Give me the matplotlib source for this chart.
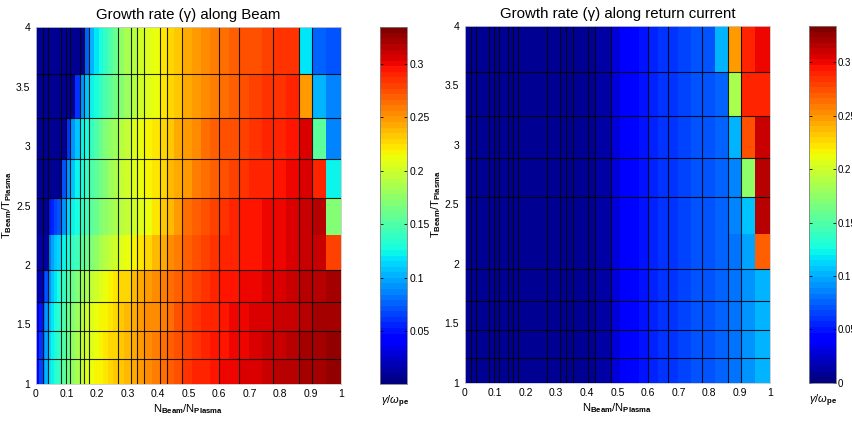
import numpy as np
import matplotlib
matplotlib.use("Agg")
import matplotlib.pyplot as plt
from matplotlib.cm import ScalarMappable
from matplotlib.colors import Normalize

plt.rcParams['font.family'] = ['Liberation Sans', 'DejaVu Sans']
plt.rcParams['mathtext.fontset'] = 'custom'
plt.rcParams['mathtext.rm'] = 'Liberation Sans'
plt.rcParams['mathtext.it'] = 'Liberation Sans:italic'
plt.rcParams['mathtext.bf'] = 'Liberation Sans:bold'

# ---------------- data ----------------
# cell edges along N_beam/N_plasma
x_edges = [0, 0.011, 0.022, 0.030, 0.038, 0.050, 0.060, 0.070, 0.081, 0.097, 0.112,
           0.127, 0.143, 0.159, 0.175, 0.19, 0.205, 0.22, 0.237, 0.253, 0.270, 0.29,
           0.313, 0.332, 0.355, 0.38, 0.405, 0.428, 0.453, 0.479, 0.51, 0.54, 0.57,
           0.601, 0.634, 0.667, 0.70, 0.74, 0.778, 0.82, 0.861, 0.906, 0.952, 1.0]
# cell edges along T_beam/T_plasma
y_edges = [1.0, 1.21, 1.44, 1.69, 1.96, 2.25, 2.56, 2.89, 3.24, 3.61, 4.0]
# mesh lines drawn in black
x_grid = [0.022, 0.038, 0.081, 0.097, 0.112, 0.143, 0.159, 0.175, 0.270, 0.313,
          0.332, 0.355, 0.405, 0.428, 0.479, 0.601, 0.667, 0.778, 0.861, 0.906]
y_grid = [1.21, 1.44, 1.69, 1.96, 2.56, 2.89, 3.24, 3.61]

# growth rate along beam (rows from T=1.0 upwards)
gamma_beam = [
    [0.040, 0.065, 0.090, 0.100, 0.118, 0.125, 0.133, 0.140, 0.152, 0.165, 0.176, 0.188, 0.198, 0.205, 0.210, 0.215, 0.219, 0.223, 0.227, 0.231, 0.235, 0.240, 0.245, 0.250, 0.255, 0.260, 0.265, 0.270, 0.276, 0.283, 0.288, 0.292, 0.296, 0.299, 0.302, 0.305, 0.308, 0.311, 0.314, 0.317, 0.321, 0.324, 0.327],
    [0.035, 0.060, 0.085, 0.095, 0.115, 0.122, 0.130, 0.138, 0.150, 0.162, 0.173, 0.185, 0.195, 0.203, 0.208, 0.213, 0.217, 0.221, 0.225, 0.229, 0.233, 0.238, 0.243, 0.248, 0.253, 0.258, 0.263, 0.268, 0.274, 0.281, 0.286, 0.290, 0.294, 0.297, 0.300, 0.303, 0.306, 0.309, 0.312, 0.315, 0.319, 0.322, 0.325],
    [0.030, 0.050, 0.080, 0.090, 0.110, 0.120, 0.128, 0.135, 0.147, 0.158, 0.168, 0.180, 0.190, 0.200, 0.206, 0.211, 0.215, 0.219, 0.223, 0.227, 0.231, 0.236, 0.241, 0.246, 0.251, 0.256, 0.261, 0.266, 0.272, 0.279, 0.284, 0.288, 0.292, 0.295, 0.298, 0.301, 0.304, 0.307, 0.310, 0.313, 0.317, 0.320, 0.323],
    [0.015, 0.020, 0.060, 0.070, 0.090, 0.110, 0.120, 0.127, 0.137, 0.148, 0.158, 0.168, 0.178, 0.188, 0.196, 0.202, 0.207, 0.212, 0.216, 0.220, 0.225, 0.230, 0.236, 0.242, 0.247, 0.252, 0.258, 0.264, 0.270, 0.277, 0.282, 0.286, 0.290, 0.293, 0.296, 0.299, 0.302, 0.305, 0.308, 0.311, 0.314, 0.318, 0.320],
    [0.012, 0.012, 0.012, 0.012, 0.080, 0.095, 0.105, 0.115, 0.125, 0.130, 0.138, 0.145, 0.152, 0.160, 0.168, 0.176, 0.184, 0.190, 0.196, 0.200, 0.206, 0.212, 0.218, 0.224, 0.230, 0.237, 0.245, 0.252, 0.260, 0.270, 0.275, 0.280, 0.284, 0.288, 0.291, 0.294, 0.297, 0.300, 0.303, 0.306, 0.310, 0.313, 0.280],
    [0.008, 0.008, 0.008, 0.008, 0.050, 0.055, 0.065, 0.070, 0.090, 0.115, 0.122, 0.130, 0.137, 0.145, 0.155, 0.162, 0.168, 0.175, 0.180, 0.186, 0.192, 0.198, 0.204, 0.209, 0.214, 0.220, 0.232, 0.240, 0.250, 0.262, 0.268, 0.275, 0.280, 0.286, 0.290, 0.293, 0.297, 0.300, 0.303, 0.306, 0.310, 0.315, 0.170],
    [0.008, 0.008, 0.008, 0.008, 0.008, 0.008, 0.008, 0.008, 0.070, 0.090, 0.110, 0.122, 0.130, 0.138, 0.148, 0.157, 0.165, 0.172, 0.180, 0.187, 0.194, 0.200, 0.206, 0.212, 0.218, 0.224, 0.230, 0.236, 0.242, 0.250, 0.257, 0.263, 0.268, 0.275, 0.280, 0.284, 0.288, 0.291, 0.295, 0.298, 0.305, 0.290, 0.125],
    [0.008, 0.008, 0.008, 0.008, 0.008, 0.008, 0.008, 0.008, 0.008, 0.060, 0.090, 0.110, 0.122, 0.130, 0.140, 0.150, 0.160, 0.168, 0.175, 0.182, 0.190, 0.198, 0.205, 0.210, 0.216, 0.222, 0.228, 0.235, 0.242, 0.250, 0.256, 0.262, 0.267, 0.273, 0.277, 0.282, 0.285, 0.289, 0.292, 0.295, 0.305, 0.155, 0.085],
    [0.008, 0.008, 0.008, 0.008, 0.008, 0.008, 0.008, 0.008, 0.008, 0.008, 0.008, 0.060, 0.090, 0.110, 0.122, 0.130, 0.140, 0.148, 0.155, 0.163, 0.172, 0.183, 0.192, 0.200, 0.207, 0.213, 0.220, 0.228, 0.235, 0.243, 0.250, 0.255, 0.260, 0.266, 0.270, 0.275, 0.279, 0.283, 0.287, 0.289, 0.250, 0.100, 0.085],
    [0.008, 0.008, 0.008, 0.008, 0.008, 0.008, 0.008, 0.008, 0.008, 0.008, 0.008, 0.008, 0.008, 0.075, 0.100, 0.120, 0.130, 0.140, 0.150, 0.160, 0.175, 0.185, 0.193, 0.200, 0.207, 0.212, 0.220, 0.228, 0.235, 0.242, 0.248, 0.253, 0.258, 0.264, 0.268, 0.273, 0.277, 0.281, 0.285, 0.287, 0.120, 0.075, 0.070],
]

# growth rate along return current (rows from T=1.0 upwards)
gamma_return = [
    [0.010, 0.010, 0.010, 0.010, 0.010, 0.010, 0.010, 0.010, 0.010, 0.010, 0.010, 0.010, 0.010, 0.010, 0.010, 0.010, 0.010, 0.010, 0.010, 0.010, 0.006, 0.006, 0.006, 0.006, 0.006, 0.006, 0.006, 0.012, 0.012, 0.030, 0.038, 0.045, 0.050, 0.055, 0.058, 0.062, 0.065, 0.068, 0.072, 0.078, 0.083, 0.090, 0.100],
    [0.010, 0.010, 0.010, 0.010, 0.010, 0.010, 0.010, 0.010, 0.010, 0.010, 0.010, 0.010, 0.010, 0.010, 0.010, 0.010, 0.010, 0.010, 0.010, 0.010, 0.006, 0.006, 0.006, 0.006, 0.006, 0.006, 0.006, 0.012, 0.012, 0.030, 0.038, 0.045, 0.050, 0.055, 0.058, 0.062, 0.065, 0.068, 0.072, 0.078, 0.083, 0.090, 0.100],
    [0.010, 0.010, 0.010, 0.010, 0.010, 0.010, 0.010, 0.010, 0.010, 0.010, 0.010, 0.010, 0.010, 0.010, 0.010, 0.010, 0.010, 0.010, 0.010, 0.010, 0.006, 0.006, 0.006, 0.006, 0.006, 0.006, 0.006, 0.012, 0.012, 0.030, 0.038, 0.045, 0.050, 0.055, 0.058, 0.062, 0.065, 0.068, 0.072, 0.078, 0.083, 0.090, 0.100],
    [0.010, 0.010, 0.010, 0.010, 0.010, 0.010, 0.010, 0.010, 0.010, 0.010, 0.010, 0.010, 0.010, 0.010, 0.010, 0.010, 0.010, 0.010, 0.010, 0.010, 0.006, 0.006, 0.006, 0.006, 0.006, 0.006, 0.006, 0.012, 0.012, 0.030, 0.038, 0.045, 0.050, 0.055, 0.058, 0.062, 0.065, 0.068, 0.072, 0.078, 0.083, 0.090, 0.100],
    [0.010, 0.010, 0.010, 0.010, 0.010, 0.010, 0.010, 0.010, 0.010, 0.010, 0.010, 0.010, 0.010, 0.010, 0.010, 0.010, 0.010, 0.010, 0.010, 0.010, 0.006, 0.006, 0.006, 0.006, 0.006, 0.006, 0.006, 0.012, 0.012, 0.030, 0.038, 0.045, 0.050, 0.055, 0.058, 0.062, 0.065, 0.068, 0.072, 0.078, 0.083, 0.095, 0.270],
    [0.010, 0.010, 0.010, 0.010, 0.010, 0.010, 0.010, 0.010, 0.010, 0.010, 0.010, 0.010, 0.010, 0.010, 0.010, 0.010, 0.010, 0.010, 0.010, 0.010, 0.006, 0.006, 0.006, 0.006, 0.006, 0.006, 0.006, 0.012, 0.012, 0.030, 0.038, 0.045, 0.050, 0.055, 0.058, 0.062, 0.065, 0.068, 0.072, 0.078, 0.088, 0.105, 0.315],
    [0.010, 0.010, 0.010, 0.010, 0.010, 0.010, 0.010, 0.010, 0.010, 0.010, 0.010, 0.010, 0.010, 0.010, 0.010, 0.010, 0.010, 0.010, 0.010, 0.010, 0.006, 0.006, 0.006, 0.006, 0.006, 0.006, 0.006, 0.012, 0.012, 0.030, 0.038, 0.045, 0.050, 0.055, 0.058, 0.062, 0.065, 0.068, 0.072, 0.078, 0.088, 0.175, 0.315],
    [0.010, 0.010, 0.010, 0.010, 0.010, 0.010, 0.010, 0.010, 0.010, 0.010, 0.010, 0.010, 0.010, 0.010, 0.010, 0.010, 0.010, 0.010, 0.010, 0.010, 0.006, 0.006, 0.006, 0.006, 0.006, 0.006, 0.006, 0.012, 0.012, 0.030, 0.038, 0.045, 0.050, 0.055, 0.058, 0.062, 0.065, 0.068, 0.072, 0.078, 0.100, 0.275, 0.310],
    [0.010, 0.010, 0.010, 0.010, 0.010, 0.010, 0.010, 0.010, 0.010, 0.010, 0.010, 0.010, 0.010, 0.010, 0.010, 0.010, 0.010, 0.010, 0.010, 0.010, 0.006, 0.006, 0.006, 0.006, 0.006, 0.006, 0.006, 0.012, 0.012, 0.030, 0.038, 0.045, 0.050, 0.055, 0.058, 0.062, 0.065, 0.068, 0.072, 0.078, 0.185, 0.290, 0.290],
    [0.010, 0.010, 0.010, 0.010, 0.010, 0.010, 0.010, 0.010, 0.010, 0.010, 0.010, 0.010, 0.010, 0.010, 0.010, 0.010, 0.010, 0.010, 0.010, 0.010, 0.006, 0.006, 0.006, 0.006, 0.006, 0.006, 0.006, 0.012, 0.012, 0.030, 0.038, 0.045, 0.050, 0.055, 0.058, 0.062, 0.065, 0.068, 0.072, 0.100, 0.250, 0.290, 0.300],
]

x_ticks = [0, 0.1, 0.2, 0.3, 0.4, 0.5, 0.6, 0.7, 0.8, 0.9, 1]
x_ticklabels = ['0', '0.1', '0.2', '0.3', '0.4', '0.5', '0.6', '0.7', '0.8', '0.9', '1']
y_ticks = [1, 1.5, 2, 2.5, 3, 3.5, 4]
y_ticklabels = ['1', '1.5', '2', '2.5', '3', '3.5', '4']
cb_ticks_left = [0.05, 0.1, 0.15, 0.2, 0.25, 0.3]
cb_ticklabels_left = ['0.05', '0.1', '0.15', '0.2', '0.25', '0.3']
cb_ticks_right = [0, 0.05, 0.1, 0.15, 0.2, 0.25, 0.3]
cb_ticklabels_right = ['0', '0.05', '0.1', '0.15', '0.2', '0.25', '0.3']
clim_left = (0.0005, 0.3345)
clim_right = (0.0, 0.334)

titles = ['Growth rate (\u03b3) along Beam', 'Growth rate (\u03b3) along return current']

# ---------------- figure ----------------
W, H = 853, 425
fig = plt.figure(figsize=(W / 100, H / 100), dpi=100)
cmap = matplotlib.colormaps['jet'].resampled(64)

def fr(x0, y0, x1, y1):
    return [x0 / W, 1 - y1 / H, (x1 - x0) / W, (y1 - y0) / H]

panels = [
    dict(ax=fr(36, 27.3, 341, 383.7), cb=fr(380, 27.3, 407.3, 383.7), Z=gamma_beam,
         clim=clim_left, cbt=cb_ticks_left, cbl=cb_ticklabels_left, title=titles[0],
         cblab=(381, 402), cbfs=7.5),
    dict(ax=fr(464.7, 26, 770, 382.7), cb=fr(808.7, 26, 836, 382.7), Z=gamma_return,
         clim=clim_right, cbt=cb_ticks_right, cbl=cb_ticklabels_right, title=titles[1],
         cblab=(809, 401), cbfs=7),
]

for p in panels:
    ax = fig.add_axes(p['ax'])
    Z = np.array(p['Z'])
    ax.pcolormesh(x_edges, y_edges, Z, cmap=cmap, vmin=p['clim'][0], vmax=p['clim'][1],
                  shading='flat', antialiased=False, linewidth=0)
    ax.vlines(x_grid, 1, 4, colors='k', linewidth=0.8, alpha=0.85)
    ax.hlines(y_grid, 0, 1, colors='k', linewidth=0.8, alpha=0.85)
    ax.set_xlim(0, 1)
    ax.set_ylim(1, 4)
    ax.set_xticks(x_ticks)
    ax.set_xticklabels(x_ticklabels)
    ax.set_yticks(y_ticks)
    ax.set_yticklabels(y_ticklabels)
    ax.tick_params(length=0, labelsize=7.5, pad=4)
    for s in ax.spines.values():
        s.set_color('#c8c8c8')
        s.set_linewidth(0.6)
    ax.set_title(p['title'], fontsize=10.8, pad=6)
    ax.set_xlabel(r'N$_{\mathbf{Beam}}$/N$_{\mathbf{Plasma}}$', fontsize=8, labelpad=2)
    ax.set_ylabel(r'T$_{\mathbf{Beam}}$/T$_{\mathbf{Plasma}}$', fontsize=8)
    ax.yaxis.set_label_coords(-0.072, 0.5)

    cax = fig.add_axes(p['cb'])
    sm = ScalarMappable(norm=Normalize(*p['clim']), cmap=cmap)
    cb = fig.colorbar(sm, cax=cax)
    cb.set_ticks(p['cbt'])
    cb.set_ticklabels(p['cbl'])
    cax.tick_params(direction='in', length=2, width=0.6, labelsize=p['cbfs'], pad=1.5,
                    left=True, right=True)
    cb.outline.set_edgecolor('#808080')
    cb.outline.set_linewidth(0.6)
    fig.text(p['cblab'][0] / W, 1 - p['cblab'][1] / H, r'$\gamma$/$\omega_{\mathbf{pe}}$',
             fontsize=8, ha='left', va='center')

fig.savefig('out.png', dpi=100)
